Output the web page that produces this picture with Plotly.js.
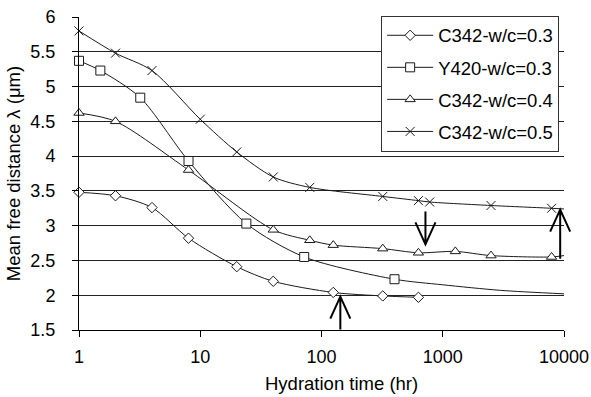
<!DOCTYPE html>
<html>
<head>
<meta charset="utf-8">
<script src="https://cdn.plot.ly/plotly-3.0.1.min.js"></script>
<style>
  html, body { margin: 0; padding: 0; background: #fff; }
  #chart { width: 591px; height: 397px; }
</style>
</head>
<body>
<div id="chart"></div>
<script>
// ---- Data ----
const seriesNames = ['C342-w/c=0.3', 'Y420-w/c=0.3', 'C342-w/c=0.4', 'C342-w/c=0.5'];

// measured points (markers)
const c03X = [1, 2, 4, 8, 20, 40, 125, 320, 630];
const c03Y = [3.48, 3.43, 3.26, 2.82, 2.41, 2.20, 2.04, 1.99, 1.97];

const y420X = [1, 1.5, 3.2, 8, 24, 72, 400];
const y420Y = [5.37, 5.23, 4.84, 3.93, 3.03, 2.55, 2.23];

const c04X = [1, 2, 8, 40, 80, 125, 320, 630, 1270, 2500, 7900];
const c04Y = [4.62, 4.50, 3.80, 2.94, 2.79, 2.72, 2.67, 2.61, 2.63, 2.57, 2.55];

const c05X = [1, 2, 4, 10, 20, 40, 80, 320, 630, 780, 2500, 7900];
const c05Y = [5.80, 5.48, 5.23, 4.53, 4.06, 3.70, 3.55, 3.42, 3.36, 3.34, 3.29, 3.25];

// fitted-curve continuation beyond the last marker
const c03TailX = [];
const c03TailY = [];
const y420TailX = [1000, 3000, 10000];
const y420TailY = [2.15, 2.07, 2.02];
const c04TailX = [10000];
const c04TailY = [2.57];
const c05TailX = [10000];
const c05TailY = [3.24];

// axis tick labels
const xTickVals = [1, 10, 100, 1000, 10000];
const xTickText = ['1', '10', '100', '1000', '10000'];
const yTickVals = [1.5, 2, 2.5, 3, 3.5, 4, 4.5, 5, 5.5, 6];
const yTickText = ['1.5', '2', '2.5', '3', '3.5', '4', '4.5', '5', '5.5', '6'];

// arrows: x position (hr), tip value (µm), direction
const arrowX = [143, 720, 9300];
const arrowTip = [1.98, 2.73, 3.23];
const arrowDir = ['up', 'down', 'up'];

// ---- Styling ----
const FONT = 'Liberation Sans, Arial, Helvetica, sans-serif';
const LINE = '#1a1a1a';
const symbols = ['diamond', 'square', 'triangle-up', 'x-thin'];
const sizes = [8, 9, 9, 9];

const markX = [c03X, y420X, c04X, c05X];
const markY = [c03Y, y420Y, c04Y, c05Y];
const tailX = [c03TailX, y420TailX, c04TailX, c05TailX];
const tailY = [c03TailY, y420TailY, c04TailY, c05TailY];

const traces = [];
// fitted curves
for (let i = 0; i < 4; i++) {
  traces.push({
    x: markX[i].concat(tailX[i]),
    y: markY[i].concat(tailY[i]),
    mode: 'lines',
    line: { color: LINE, width: 1, shape: 'spline', smoothing: 0.8 },
    showlegend: false,
    hoverinfo: 'skip'
  });
}
// markers
for (let i = 0; i < 4; i++) {
  const isX = symbols[i] === 'x-thin';
  traces.push({
    x: markX[i],
    y: markY[i],
    mode: 'markers',
    cliponaxis: false,
    marker: {
      symbol: symbols[i],
      size: sizes[i],
      color: isX ? LINE : '#ffffff',
      line: { color: LINE, width: 1 }
    },
    showlegend: false
  });
}
// legend entries
for (let i = 0; i < 4; i++) {
  const isX = symbols[i] === 'x-thin';
  traces.push({
    x: [null], y: [null],
    name: seriesNames[i],
    legendgroup: 'g' + i,
    mode: 'lines+markers',
    line: { color: LINE, width: 1 },
    marker: {
      symbol: symbols[i],
      size: sizes[i],
      color: isX ? LINE : '#ffffff',
      line: { color: LINE, width: 1 }
    }
  });
}

const xLogRange = [0, 4];
const yRange = [1.5, 6];
const shapes = arrowX.map((x, i) => {
  const px = (Math.log10(x) - xLogRange[0]) / (xLogRange[1] - xLogRange[0]);
  const py = (arrowTip[i] - yRange[0]) / (yRange[1] - yRange[0]);
  const up = arrowDir[i] === 'up';
  const len = i === 2 ? 49 : 33;
  const path = up
    ? `M0,0 L0,${-len} M-10,-22 L0,0 L10,-22`
    : `M0,0 L0,${len} M-10,22 L0,0 L10,22`;
  return {
    type: 'path', xref: 'paper', yref: 'paper',
    xsizemode: 'pixel', ysizemode: 'pixel',
    xanchor: px, yanchor: py,
    path: path,
    line: { color: '#000', width: 2 },
    layer: 'above'
  };
});

const layout = {
  width: 591, height: 397,
  margin: { l: 79, r: 27, t: 17, b: 67, pad: 0 },
  paper_bgcolor: '#fff', plot_bgcolor: '#fff',
  font: { family: FONT, size: 18, color: '#000' },
  showlegend: true,
  legend: {
    x: 0.623, xanchor: 'left', y: 1.004, yanchor: 'top',
    bgcolor: '#fff', bordercolor: '#333', borderwidth: 1,
    font: { family: FONT, size: 18.5, color: '#000' },
    tracegroupgap: 5, itemwidth: 46
  },
  xaxis: {
    type: 'log', range: xLogRange,
    tickvals: xTickVals, ticktext: xTickText,
    ticks: 'outside', ticklen: 6, tickcolor: '#000', tickwidth: 1,
    showline: true, linecolor: '#000', linewidth: 1,
    showgrid: false, zeroline: false,
    ticklabelstandoff: 4,
    tickfont: { family: FONT, size: 18, color: '#000' }
  },
  yaxis: {
    range: yRange,
    tickvals: yTickVals, ticktext: yTickText,
    ticks: 'outside', ticklen: 6, tickcolor: '#000', tickwidth: 1,
    showline: true, linecolor: '#000', linewidth: 1,
    showgrid: true, gridcolor: '#222', gridwidth: 1, zeroline: false,
    ticklabelstandoff: 13,
    tickfont: { family: FONT, size: 18, color: '#000' },
    title: { text: 'Mean free distance λ (μm)', font: { family: FONT, size: 18.5, color: '#000' }, standoff: 4 }
  },
  annotations: [{
    text: 'Hydration time (hr)',
    xref: 'paper', yref: 'paper', x: 0.542, y: -0.1725,
    xanchor: 'center', yanchor: 'middle', showarrow: false,
    font: { family: FONT, size: 18.5, color: '#000' }
  }],
  shapes: shapes
};

Plotly.newPlot('chart', traces, layout, { staticPlot: true, displayModeBar: false });
</script>
</body>
</html>
